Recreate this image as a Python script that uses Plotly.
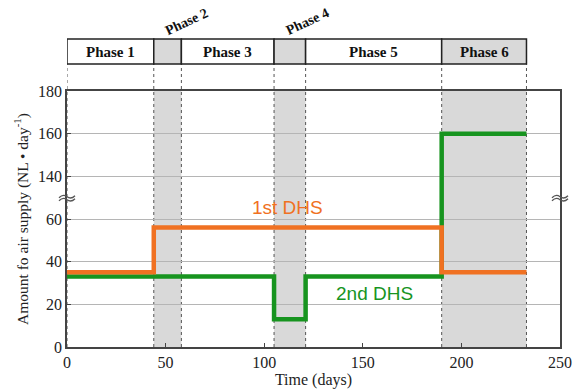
import plotly.graph_objects as go

# Operating phases (days) and the air supply of each reactor per phase
phase_edges = [0, 44, 58, 105, 121, 190, 233]
phase_names = ["Phase 1", "Phase 2", "Phase 3", "Phase 4", "Phase 5", "Phase 6"]
phase_shaded = [False, True, False, True, False, True]
dhs1_supply = [35, 56, 56, 56, 56, 35]      # NL/day, 1st DHS
dhs2_supply = [33, 33, 33, 13, 33, 160]     # NL/day, 2nd DHS

y_ticks = [0, 20, 40, 60, 140, 160, 180]
x_ticks = [0, 50, 100, 150, 200, 250]

# Broken y axis: 60..140 is collapsed into a single 20-unit gap
BREAK_LO, BREAK_HI, GAP = 60, 140, 20


def to_axis(v):
    return v if v <= BREAK_LO else v - (BREAK_HI - BREAK_LO) + GAP


ORANGE = "#f07122"
GREEN = "#17941f"
SERIF = "Liberation Serif"

fig = go.Figure()

for values, color in [(dhs2_supply, GREEN), (dhs1_supply, ORANGE)]:
    ys = [to_axis(v) for v in values] + [to_axis(values[-1])]
    fig.add_trace(go.Scatter(
        x=phase_edges, y=ys, mode="lines", line_shape="hv",
        line=dict(color=color, width=4.5), showlegend=False, hoverinfo="skip"))

shapes = []
HDR_BOT, HDR_TOP = 1.105, 1.203
for i, name in enumerate(phase_names):
    x0, x1 = phase_edges[i], phase_edges[i + 1]
    if phase_shaded[i]:
        shapes.append(dict(type="rect", xref="x", yref="paper", x0=x0, x1=x1, y0=0, y1=1,
                           fillcolor="#d9d9d9", line_width=0, layer="below"))
    shapes.append(dict(type="rect", xref="x", yref="paper", x0=x0, x1=x1,
                       y0=HDR_BOT, y1=HDR_TOP,
                       fillcolor="#d9d9d9" if phase_shaded[i] else "white",
                       line=dict(color="#222", width=1.5)))
for e in phase_edges:
    shapes.append(dict(type="line", xref="x", yref="paper", x0=e, x1=e, y0=0, y1=HDR_BOT,
                       line=dict(color="#555", width=1, dash="dot"), layer="below"))

# wavy axis-break marks drawn across both vertical axes (pixel-sized paths)
wave = " ".join(f"M -8 {a} Q -4 {a + 4} 0 {a + 1} T 8 {a + 2}" for a in (0, -3))
for xp in (0, 1):
    shapes.append(dict(type="path", xref="paper", yref="y", xsizemode="pixel",
                       ysizemode="pixel", xanchor=xp, yanchor=BREAK_LO + GAP / 2,
                       path=wave, line=dict(color="#555", width=1.3)))
fig.update_layout(shapes=shapes)

annotations = []
for i, name in enumerate(phase_names):
    x0, x1 = phase_edges[i], phase_edges[i + 1]
    if x1 - x0 > 25:
        annotations.append(dict(x=(x0 + x1) / 2, y=(HDR_BOT + HDR_TOP) / 2, xref="x", yref="paper",
                                xanchor="center", yanchor="middle",
                                text=f"<b>{name}</b>", showarrow=False,
                                font=dict(family=SERIF, size=15, color="#111")))
    else:
        annotations.append(dict(x=x0 + 17, y=1.27, xref="x", yref="paper",
                                xanchor="center", yanchor="middle",
                                text=f"<b>{name}</b>", showarrow=False, textangle=-25,
                                font=dict(family=SERIF, size=14, color="#111")))

annotations += [
    dict(x=112, y=65.5, xref="x", yref="y", text="1st DHS", showarrow=False,
         xanchor="center", yanchor="middle",
         font=dict(family="Liberation Sans", size=19, color=ORANGE)),
    dict(x=156, y=25, xref="x", yref="y", text="2nd DHS", showarrow=False,
         xanchor="center", yanchor="middle",
         font=dict(family="Liberation Sans", size=19, color=GREEN)),
]
fig.update_layout(annotations=annotations)

fig.update_xaxes(range=[0, 250], tickvals=x_ticks, ticks="inside", ticklen=4,
                 showgrid=False, zeroline=False, showline=True, linecolor="#444",
                 linewidth=1.5, mirror=True, automargin=False,
                 title=dict(text="Time (days)", font=dict(family=SERIF, size=16, color="#222"),
                            standoff=3),
                 tickfont=dict(family=SERIF, size=16, color="#222"))
fig.update_yaxes(range=[0, to_axis(180)], tickvals=[to_axis(v) for v in y_ticks],
                 ticktext=[str(v) for v in y_ticks], ticks="inside", ticklen=4,
                 showgrid=True, gridcolor="#b5b5b5", gridwidth=1, zeroline=False,
                 showline=True, linecolor="#444", linewidth=1.5, mirror=True,
                 automargin=False,
                 title=dict(text="Amount fo air supply (NL • day<sup>-1</sup>)",
                            font=dict(family=SERIF, size=15.5, color="#222"), standoff=6),
                 tickfont=dict(family=SERIF, size=16, color="#222"))

fig.update_layout(width=574, height=391, margin=dict(l=67, r=14, t=91, b=44),
                  plot_bgcolor="white", paper_bgcolor="white")

fig.write_html("out.html")
